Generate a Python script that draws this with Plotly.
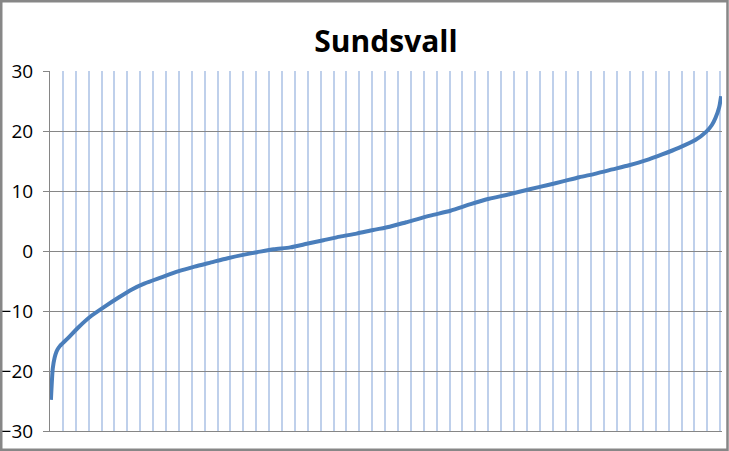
import plotly.graph_objects as go

# Sorted daily mean temperatures (day rank -> temperature, °C)
day_rank = [0, 1, 2, 3, 4, 5, 9, 15, 22, 29, 37, 44, 51, 60, 69, 78, 87, 96, 105,
            112, 121, 130, 139, 148, 157, 166, 175, 184, 193, 206, 217, 228, 238,
            249, 260, 270, 278, 287, 296, 305, 314, 323, 332, 341, 350,
            356, 359, 361, 363, 364]
temps = [-24.8, -19.6, -17.8, -16.8, -16.2, -15.8, -14.6, -12.7, -10.8, -9.3, -7.7,
         -6.4, -5.4, -4.4, -3.4, -2.6, -1.9, -1.2, -0.6, -0.2, 0.3, 0.6, 1.2, 1.8,
         2.4, 2.9, 3.5, 4.05, 4.8, 5.9, 6.7, 7.8, 8.7, 9.45, 10.3, 11.0, 11.6,
         12.3, 12.9, 13.6, 14.3, 15.1, 16.1, 17.2, 18.5, 19.9, 21.0, 22.2,
         24.0, 25.8]
n_days = 365
y_ticks = [-30, -20, -10, 0, 10, 20, 30]
title_text = "Sundsvall"

W, H = 729, 451
ml, mr, mt, mb = 50, 7, 71, 20
pw, ph = W - ml - mr, H - mt - mb

fig = go.Figure()
fig.add_trace(go.Scatter(
    x=day_rank, y=temps, mode="lines",
    line=dict(color="#4A7EBB", width=4, shape="spline", smoothing=0.6),
    hoverinfo="skip", showlegend=False,
))

def px_x(p):
    return (p - ml) / pw

def px_y(p):
    return (H - mb - p) / ph

fig.update_layout(
    width=W, height=H, autosize=False,
    margin=dict(l=ml, r=mr, t=mt, b=mb, pad=0),
    paper_bgcolor="white", plot_bgcolor="white",
    title=dict(text="<b>" + title_text + "</b>", x=0.5, xanchor="center",
               xref="paper", y=1 - 41 / H, yanchor="middle", yref="container",
               font=dict(family="Open Sans", size=30, color="black")),
    xaxis=dict(range=[-0.5, n_days - 0.5], tick0=-0.5, dtick=7,
               showgrid=True, gridcolor="#BFD0EB", gridwidth=2,
               showticklabels=False, ticks="", zeroline=False, automargin=False,
               showline=True, linecolor="#868686", linewidth=1),
    yaxis=dict(range=[-30, 30], tickvals=y_ticks, automargin=False,
               showgrid=True, gridcolor="#868686", gridwidth=1,
               zeroline=False, showline=True, linecolor="#868686", linewidth=1,
               ticks="outside", ticklen=6, tickcolor="#868686",
               ticklabelstandoff=6,
               tickfont=dict(family="Open Sans", size=19, color="black")),
    shapes=[dict(type="rect", xref="paper", yref="paper",
                 x0=px_x(1.25), x1=px_x(727.5), y0=px_y(449.75), y1=px_y(1.25),
                 line=dict(color="#878787", width=2.5), layer="above")],
)

fig.write_html("out.html", config={"displayModeBar": False},
               post_script="document.body.style.margin='0';document.body.style.overflow='hidden';")
